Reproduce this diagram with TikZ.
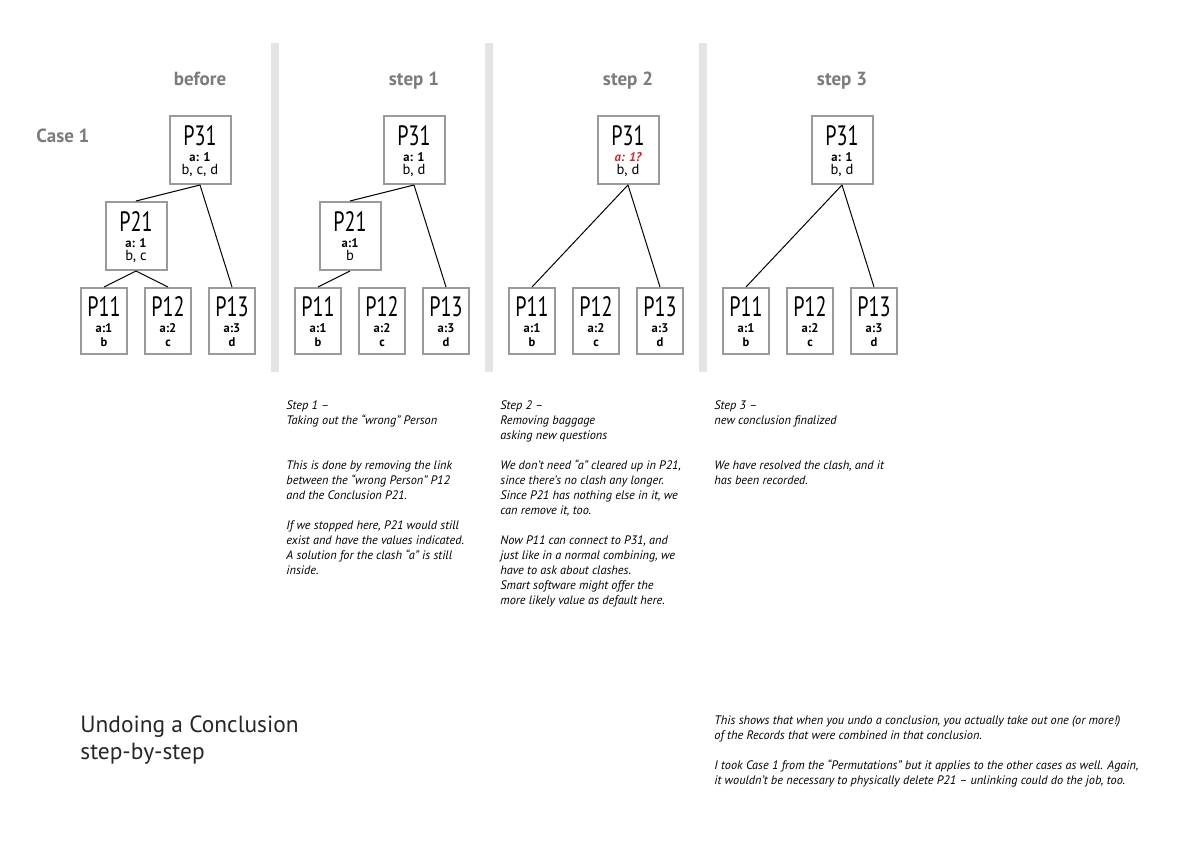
\documentclass[tikz,border=0pt]{standalone}
\usepackage{fontspec}
\setmainfont{PT Sans}
\newfontfamily\boxfont[FakeStretch=0.72]{PT Sans}
\usetikzlibrary{calc}

\definecolor{boxgray}{HTML}{9A9A9A}
\definecolor{headgray}{HTML}{7B7B7B}
\definecolor{bargray}{HTML}{E4E4E4}
\definecolor{clashred}{HTML}{D2232A}

\tikzset{
  cbox/.style={draw=boxgray, line width=1pt, minimum width=30.5pt, minimum height=34pt, inner sep=0pt},
  rbox/.style={draw=boxgray, line width=1pt, minimum width=23pt, minimum height=33pt, inner sep=0pt},
  ptitle/.style={anchor=base, inner sep=0pt, font=\boxfont\fontsize{14}{14}\selectfont},
  pclash/.style={anchor=base, inner sep=0pt, font=\bfseries\fontsize{6.3}{6.3}\selectfont},
  pvalue/.style={anchor=base, inner sep=0pt, font=\fontsize{7.3}{7.3}\selectfont},
  link/.style={draw, line width=0.5pt},
  head/.style={anchor=base, inner sep=0pt, text=headgray, font=\bfseries\fontsize{9.5}{9.5}\selectfont},
  note/.style={anchor=base west, align=left, inner sep=0pt, font=\itshape\fontsize{6.15}{7.5}\selectfont},
  divider/.style={fill=bargray, draw=none}
}

% conclusion box: name, position, title, clash line, values
\newcommand{\conclusion}[5]{%
  \node[cbox] (#1) at (#2) {};
  \node[ptitle] (#1-t) at ($(#1.north)+(0,31)$) {#3};
  \node[pclash] (#1-a) at ($(#1.north)+(0,47)$) {#4};
  \node[pvalue] (#1-v) at ($(#1.north)+(0,60)$) {#5};
}
% record box: name, position, title, clash line, value
\newcommand{\record}[5]{%
  \node[rbox] (#1) at (#2) {};
  \node[ptitle] (#1-t) at ($(#1.north)+(0,30)$) {#3};
  \node[pclash] (#1-a) at ($(#1.north)+(0,46)$) {#4};
  \node[pclash] (#1-v) at ($(#1.north)+(0,60)$) {#5};
}
\newcommand{\records}{%
  \record{P11}{104,321}{P11}{a:1}{b}
  \record{P12}{168,321}{P12}{a:2}{c}
  \record{P13}{232,321}{P13}{a:3}{d}
}

\begin{document}
\begin{tikzpicture}[x=0.5pt, y=-0.5pt]
\useasboundingbox (0,0) rectangle (1200,849);

\node[head, anchor=base west] (case) at (36,143) {Case 1};

% separators
\fill[divider] (271,43) rectangle (279,372);
\fill[divider] (485,43) rectangle (493,372);
\fill[divider] (699,43) rectangle (707,372);

% before
\begin{scope}[name prefix=b-]
  \node[head] (head) at (200,86) {before};
  \conclusion{P31}{200,150}{P31}{a: 1}{b, c, d}
  \conclusion{P21}{136,236}{P21}{a: 1}{b, c}
  \records
  \path[link] (P31.south) -- (P21.north);
  \path[link] (P31.south) -- (P13.north);
  \path[link] (P21.south) -- (P11.north);
  \path[link] (P21.south) -- (P12.north);
\end{scope}

% step 1
\begin{scope}[shift={(214,0)}, name prefix=s1-]
  \node[head] (head) at (200,86) {step 1};
  \conclusion{P31}{200,150}{P31}{a: 1}{b, d}
  \conclusion{P21}{136,236}{P21}{a:1}{b}
  \records
  \path[link] (P31.south) -- (P21.north);
  \path[link] (P31.south) -- (P13.north);
  \path[link] (P21.south) -- (P11.north);
\end{scope}

% step 2
\begin{scope}[shift={(428,0)}, name prefix=s2-]
  \node[head] (head) at (200,86) {step 2};
  \conclusion{P31}{200,150}{P31}{\color{clashred}\itshape a: 1?}{b, d}
  \records
  \path[link] (P31.south) -- (P11.north);
  \path[link] (P31.south) -- (P13.north);
\end{scope}

% step 3
\begin{scope}[shift={(642,0)}, name prefix=s3-]
  \node[head] (head) at (200,86) {step 3};
  \conclusion{P31}{200,150}{P31}{a: 1}{b, d}
  \records
  \path[link] (P31.south) -- (P11.north);
  \path[link] (P31.south) -- (P13.north);
\end{scope}

% explanations (base = last line)
\node[note] (note1) at (286,575) {Step 1 –\\Taking out the “wrong” Person\\[15pt]
  This is done by removing the link\\between the “wrong Person” P12\\and the Conclusion P21.\\[7.5pt]
  If we stopped here, P21 would still\\exist and have the values indicated.\\A solution for the clash “a” is still\\inside.};
\node[note] (note2) at (500,605) {Step 2 –\\Removing baggage\\asking new questions\\[7.5pt]
  We don’t need “a” cleared up in P21,\\since there’s no clash any longer.\\Since P21 has nothing else in it, we\\can remove it, too.\\[7.5pt]
  Now P11 can connect to P31, and\\just like in a normal combining, we\\have to ask about clashes.\\Smart software might offer the\\more likely value as default here.};
\node[note] (note3) at (714,485) {Step 3 –\\new conclusion finalized\\[15pt]
  We have resolved the clash, and it\\has been recorded.};
\node[note] (summary) at (714,784) {This shows that when you undo a conclusion, you actually take out one (or more!)\\of the Records that were combined in that conclusion.\\[7.5pt]
  I took Case 1 from the “Permutations” but it applies to the other cases as well. Again,\\it wouldn’t be necessary to physically delete P21 – unlinking could do the job, too.};

\node[anchor=base west, align=left, inner sep=0pt, text=black!85, font=\fontsize{11.7}{13.5}\selectfont] (title) at (80,760) {Undoing a Conclusion\\step-by-step};

\end{tikzpicture}
\end{document}
